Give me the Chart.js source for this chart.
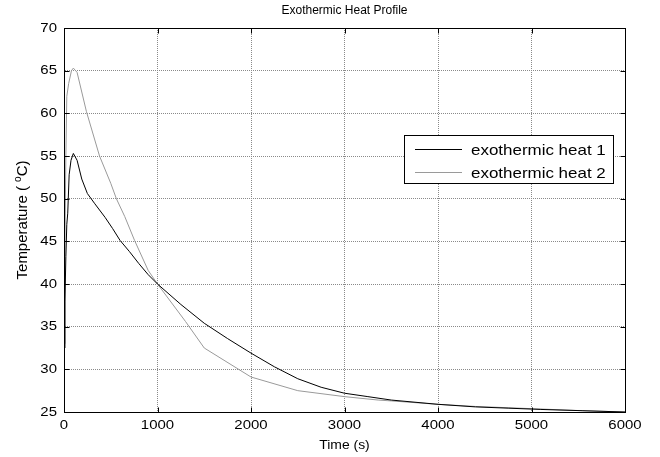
<!DOCTYPE html>
<html><head><meta charset="utf-8">
<script src="https://cdn.jsdelivr.net/npm/chart.js@4"></script>
<style>html,body{margin:0;padding:0;background:#fff}#wrap{width:660px;height:457px;position:relative}</style>
</head><body><div id="wrap"><canvas id="c" width="660" height="457"></canvas></div>
<script>
const chartTitle = "Exothermic Heat Profile";
const xLabel = "Time (s)";
const yLabelMain = "Temperature ( ";
const yLabelSup = "o";
const yLabelEnd = "C)";
const seriesNames = ["exothermic heat 1", "exothermic heat 2"];
const seriesColors = ["#000000", "#9a9a9a"];
const xTicks = [0, 1000, 2000, 3000, 4000, 5000, 6000];
const yTicks = [25, 30, 35, 40, 45, 50, 55, 60, 65, 70];

const time1 = [0, 10, 20, 30, 40, 55, 75, 100, 140, 190, 250, 330, 440, 520, 600, 700, 800, 900, 1000, 1250, 1500, 1750, 2000, 2250, 2500, 2750, 3000, 3250, 3500, 4000, 4400, 4750, 5100, 5550, 6000];
const temp1 = [32.5, 38.0, 43.2, 47.0, 48.3, 52.8, 54.5, 55.3, 54.5, 52.3, 50.6, 49.4, 47.8, 46.5, 45.1, 43.8, 42.4, 41.1, 40.0, 37.6, 35.4, 33.6, 31.9, 30.3, 28.9, 27.9, 27.2, 26.8, 26.4, 25.9, 25.6, 25.45, 25.3, 25.15, 25.0];

const time2 = [0, 10, 20, 30, 50, 80, 100, 140, 240, 380, 500, 560, 650, 755, 900, 1000, 1300, 1500, 2000, 2500, 3000, 3360, 3500, 4000, 4400, 4750, 5100, 5550, 6000];
const temp2 = [33.0, 45.0, 55.0, 62.0, 63.5, 65.0, 65.3, 64.8, 60.2, 55.0, 51.8, 50.0, 47.9, 45.1, 41.6, 40.0, 35.6, 32.5, 29.1, 27.5, 26.8, 26.4, 26.3, 25.9, 25.65, 25.5, 25.35, 25.15, 25.0];

const FONT = "'Liberation Sans', Arial, sans-serif";

function toPoints(xs, ys) { return xs.map((x, i) => ({ x: x, y: ys[i] })); }

// draw text with a horizontal stretch factor
function sText(ctx, text, x, y, size, sx, align) {
  ctx.save();
  ctx.font = size + 'px ' + FONT;
  ctx.textBaseline = 'middle';
  ctx.textAlign = 'left';
  const w = ctx.measureText(text).width * sx;
  let x0 = x;
  if (align === 'center') x0 = x - w / 2;
  else if (align === 'right') x0 = x - w;
  ctx.translate(x0, y);
  ctx.scale(sx, 1);
  ctx.fillText(text, 0, 0);
  ctx.restore();
}

const decor = {
  id: 'decor',
  afterDatasetsDraw(chart) {
    const ctx = chart.ctx;
    const a = chart.chartArea;
    const xs = chart.scales.x, ys = chart.scales.y;
    const L = Math.round(a.left) + 0.5, R = Math.round(a.right) + 0.5;
    const T = Math.round(a.top) + 0.5, B = Math.round(a.bottom) + 0.5;
    ctx.save();
    ctx.strokeStyle = '#000';
    ctx.lineWidth = 1;
    ctx.strokeRect(L, T, R - L, B - T);
    ctx.beginPath();
    xTicks.forEach(v => {
      const px = Math.round(xs.getPixelForValue(v)) + 0.5;
      ctx.moveTo(px, B); ctx.lineTo(px, B - 5);
      ctx.moveTo(px, T); ctx.lineTo(px, T + 5);
    });
    yTicks.forEach(v => {
      const py = Math.round(ys.getPixelForValue(v)) + 0.5;
      ctx.moveTo(L, py); ctx.lineTo(L + 5, py);
      ctx.moveTo(R, py); ctx.lineTo(R - 5, py);
    });
    ctx.stroke();

    ctx.fillStyle = '#000';
    // tick labels
    xTicks.forEach(v => sText(ctx, String(v), xs.getPixelForValue(v), 425, 13, 1.15, 'center'));
    yTicks.forEach(v => sText(ctx, String(v), 57, ys.getPixelForValue(v), 13, 1.15, 'right'));

    // legend
    const lx = 404.5, ly = 135.5, lw = 209, lh = 48;
    ctx.fillStyle = '#fff';
    ctx.fillRect(lx, ly, lw, lh);
    ctx.strokeStyle = '#000';
    ctx.strokeRect(lx, ly, lw, lh);
    seriesNames.forEach((name, i) => {
      const yy = 149.5 + i * 23;
      ctx.strokeStyle = seriesColors[i];
      ctx.beginPath(); ctx.moveTo(415, yy); ctx.lineTo(462, yy); ctx.stroke();
      ctx.fillStyle = '#000';
      sText(ctx, name, 471, yy + 1, 15, 1.13, 'left');
    });

    // title
    ctx.fillStyle = '#000';
    sText(ctx, chartTitle, (a.left + a.right) / 2, 11, 12, 1.0, 'center');
    // x label
    sText(ctx, xLabel, (a.left + a.right) / 2, 445, 13, 1.07, 'center');
    // y label with superscript
    ctx.translate(23, (a.top + a.bottom) / 2);
    ctx.rotate(-Math.PI / 2);
    ctx.textBaseline = 'middle';
    const fMain = '15px ' + FONT, fSup = '10px ' + FONT;
    ctx.font = fMain; const w1 = ctx.measureText(yLabelMain).width; const w3 = ctx.measureText(yLabelEnd).width;
    ctx.font = fSup; const w2 = ctx.measureText(yLabelSup).width;
    let x0 = -(w1 + w2 + w3) / 2;
    ctx.textAlign = 'left';
    ctx.font = fMain; ctx.fillText(yLabelMain, x0, 0);
    ctx.font = fSup; ctx.fillText(yLabelSup, x0 + w1, -5);
    ctx.font = fMain; ctx.fillText(yLabelEnd, x0 + w1 + w2, 0);
    ctx.restore();
  }
};

new Chart(document.getElementById('c'), {
  type: 'line',
  data: {
    datasets: [
      { label: seriesNames[0], data: toPoints(time1, temp1), borderColor: seriesColors[0], borderWidth: 1, pointRadius: 0, fill: false, tension: 0 },
      { label: seriesNames[1], data: toPoints(time2, temp2), borderColor: seriesColors[1], borderWidth: 1, pointRadius: 0, fill: false, tension: 0 }
    ]
  },
  options: {
    responsive: false,
    animation: false,
    layout: { padding: { top: 28, right: 35, left: 0, bottom: 0 } },
    plugins: { legend: { display: false }, tooltip: { enabled: false }, title: { display: false } },
    scales: {
      x: {
        type: 'linear', min: 0, max: 6000,
        afterBuildTicks: s => { s.ticks = xTicks.map(v => ({ value: v })); },
        afterFit: s => { s.height = 45; },
        ticks: { display: false },
        grid: { color: '#8a8a8a', lineWidth: 1, drawTicks: false },
        border: { display: true, color: '#000', dash: [1, 1] }
      },
      y: {
        type: 'linear', min: 25, max: 70,
        afterBuildTicks: s => { s.ticks = yTicks.map(v => ({ value: v })); },
        afterFit: s => { s.width = 64; },
        ticks: { display: false },
        grid: { color: '#8a8a8a', lineWidth: 1, drawTicks: false },
        border: { display: true, color: '#000', dash: [1, 1] }
      }
    }
  },
  plugins: [decor]
});
</script>
</body></html>
